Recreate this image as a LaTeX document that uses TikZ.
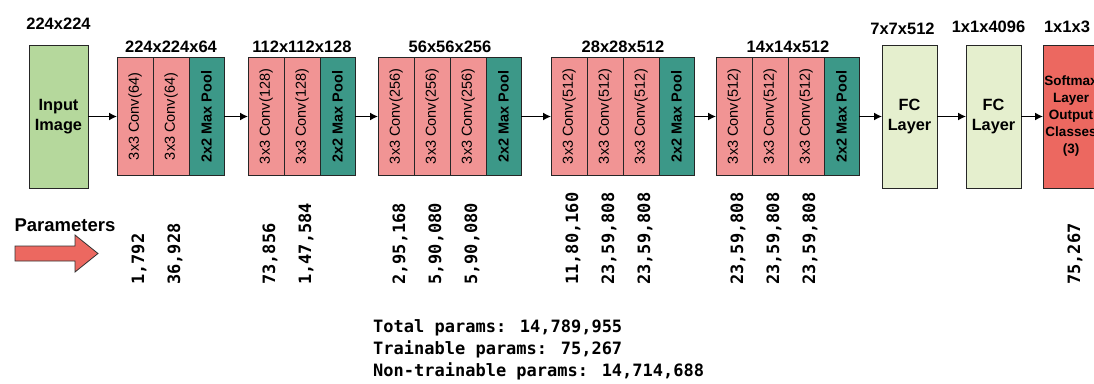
\documentclass[tikz,border=0pt]{standalone}
\usepackage{fontspec}
\setmainfont{Liberation Sans}
\newfontfamily\numfont{DejaVu Sans Mono}
\usepackage{tikz}
\usetikzlibrary{arrows.meta,positioning,calc}
\definecolor{convpink}{RGB}{241,148,148}
\definecolor{poolteal}{RGB}{60,152,136}
\definecolor{inputgreen}{RGB}{181,216,156}
\definecolor{fcgreen}{RGB}{229,239,206}
\definecolor{softred}{RGB}{236,104,96}

\begin{document}
\begin{tikzpicture}[x=1pt, y=-1pt,
    box/.style={draw=black!85, line width=0.9pt, inner sep=0pt, outer sep=0pt},
    conv/.style={box, fill=convpink, minimum width=36pt, minimum height=118pt,
      label={[rotate=90, font=\fontsize{14.5}{16}\selectfont]center:#1}},
    pool/.style={box, fill=poolteal, minimum width=35pt, minimum height=118pt,
      label={[rotate=90, font=\bfseries\fontsize{14.5}{16}\selectfont]center:2x2 Max Pool}},
    tall/.style={box, minimum width=55pt, minimum height=143pt, align=center, font=\bfseries\fontsize{16.3}{19.5}\selectfont},
    dim/.style={inner sep=1pt, font=\bfseries\fontsize{16.5}{18}\selectfont},
    param/.style={rotate=90, anchor=west, inner sep=0pt, font=\numfont\bfseries\fontsize{17}{17}\selectfont},
    arrow/.style={-{Latex[length=8pt,width=8pt]}, line width=1.4pt}
  ]
    \useasboundingbox (0,0) rectangle (1094,383);
    \node[tall, fill=inputgreen, minimum width=59pt] (input) at (58.5,116.5) {Input\\Image};
    \node[dim, above=14pt of input] (insize) {224x224};
    % block 1
    \node[conv={3x3 Conv(64)}, right=29pt of input] (b1c1) {};
    \node[conv={3x3 Conv(64)}, right=0pt of b1c1] (b1c2) {};
    \node[pool, right=0pt of b1c2] (b1p) {};
    \node[dim, above=3.5pt of b1c2] (b1size) {224x224x64};
    % block 2
    \node[conv={3x3 Conv(128)}, right=24pt of b1p] (b2c1) {};
    \node[conv={3x3 Conv(128)}, right=0pt of b2c1] (b2c2) {};
    \node[pool, right=0pt of b2c2] (b2p) {};
    \node[dim, above=3.5pt of b2c2] (b2size) {112x112x128};
    % block 3
    \node[conv={3x3 Conv(256)}, right=23pt of b2p] (b3c1) {};
    \node[conv={3x3 Conv(256)}, right=0pt of b3c1] (b3c2) {};
    \node[conv={3x3 Conv(256)}, right=0pt of b3c2] (b3c3) {};
    \node[pool, right=0pt of b3c3] (b3p) {};
    \node[dim, above=3.5pt of b3c2.north east] (b3size) {56x56x256};
    % block 4
    \node[conv={3x3 Conv(512)}, right=30pt of b3p] (b4c1) {};
    \node[conv={3x3 Conv(512)}, right=0pt of b4c1] (b4c2) {};
    \node[conv={3x3 Conv(512)}, right=0pt of b4c2] (b4c3) {};
    \node[pool, right=0pt of b4c3] (b4p) {};
    \node[dim, above=3.5pt of b4c2.north east] (b4size) {28x28x512};
    % block 5
    \node[conv={3x3 Conv(512)}, right=22pt of b4p] (b5c1) {};
    \node[conv={3x3 Conv(512)}, right=0pt of b5c1] (b5c2) {};
    \node[conv={3x3 Conv(512)}, right=0pt of b5c2] (b5c3) {};
    \node[pool, right=0pt of b5c3] (b5p) {};
    \node[dim, above=3.5pt of b5c2.north east] (b5size) {14x14x512};
    % dense part
    \node[tall, fill=fcgreen, right=23pt of b5p] (fc1) {FC\\Layer};
    \node[dim, above=9pt of fc1, xshift=-7pt] (fc1size) {7x7x512};
    \node[tall, fill=fcgreen, right=29pt of fc1] (fc2) {FC\\Layer};
    \node[dim, above=11pt of fc2, xshift=-5pt] (fc2size) {1x1x4096};
    \node[tall, fill=softred, minimum width=56pt, right=22pt of fc2, font=\bfseries\fontsize{13.5}{17}\selectfont] (soft) {Softmax\\Layer\\Output\\Classes\\(3)};
    \node[dim, above=11pt of soft, xshift=-4pt] (softsize) {1x1x3};
    \draw[arrow] (input) -- (b1c1);
    \draw[arrow] (b1p) -- (b2c1);
    \draw[arrow] (b2p) -- (b3c1);
    \draw[arrow] (b3p) -- (b4c1);
    \draw[arrow] (b4p) -- (b5c1);
    \draw[arrow] (b5p) -- (fc1);
    \draw[arrow] (fc1) -- (fc2);
    \draw[arrow] (fc2) -- (soft);
    % parameter counts
    \node[font=\bfseries\fontsize{18.5}{20}\selectfont] (paramtitle) at (65,225) {Parameters};
    \draw[draw=black!80, line width=0.8pt, fill=softred] (15,246) -- (75,246) -- (75,235) -- (98,253.5) -- (75,272) -- (75,261) -- (15,261) -- cycle;
    \coordinate (pbase) at (0,285);
    \node[param] (p11) at ($(b1c1.south |- pbase)+(4,0)$) {1,792};
    \node[param] (p12) at ($(b1c2.south |- pbase)+(4,0)$) {36,928};
    \node[param] (p21) at ($(b2c1.south |- pbase)+(4,0)$) {73,856};
    \node[param] (p22) at ($(b2c2.south |- pbase)+(4,0)$) {1,47,584};
    \node[param] (p31) at ($(b3c1.south |- pbase)+(4,0)$) {2,95,168};
    \node[param] (p32) at ($(b3c2.south |- pbase)+(4,0)$) {5,90,080};
    \node[param] (p33) at ($(b3c3.south |- pbase)+(4,0)$) {5,90,080};
    \node[param] (p41) at ($(b4c1.south |- pbase)+(4,0)$) {11,80,160};
    \node[param] (p42) at ($(b4c2.south |- pbase)+(4,0)$) {23,59,808};
    \node[param] (p43) at ($(b4c3.south |- pbase)+(4,0)$) {23,59,808};
    \node[param] (p51) at ($(b5c1.south |- pbase)+(4,0)$) {23,59,808};
    \node[param] (p52) at ($(b5c2.south |- pbase)+(4,0)$) {23,59,808};
    \node[param] (p53) at ($(b5c3.south |- pbase)+(4,0)$) {23,59,808};
    \node[param] (psoft) at ($(soft.south |- pbase)+(4,0)$) {75,267};
    \node[anchor=west, align=left, inner sep=0pt, font=\numfont\bfseries\fontsize{17}{22}\selectfont] (totals) at (373,350) {Total params: 14,789,955\\Trainable params: 75,267\\Non-trainable params: 14,714,688};
  \end{tikzpicture}
\end{document}
